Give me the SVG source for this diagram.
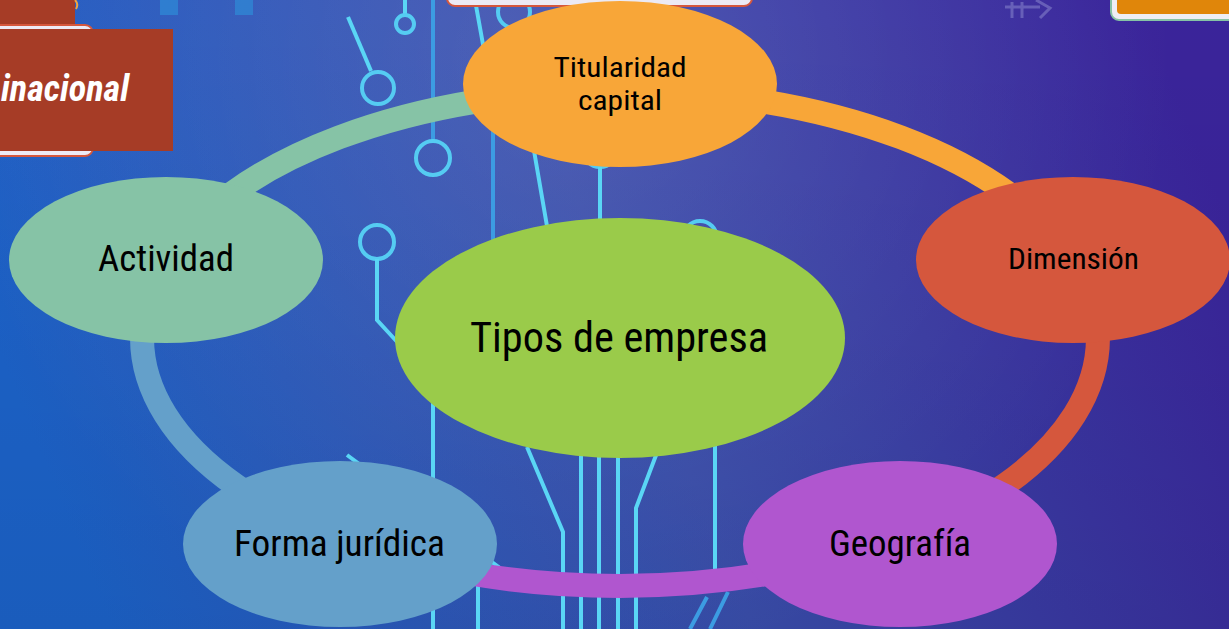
<svg xmlns="http://www.w3.org/2000/svg" width="1229" height="629" viewBox="0 0 1229 629">
<defs>
<linearGradient id="bg" gradientUnits="userSpaceOnUse" x1="100" y1="600" x2="1200" y2="150">
<stop offset="0" stop-color="#1C63CA"/>
<stop offset="0.5" stop-color="#3A4EAE"/>
<stop offset="1" stop-color="#3A249A"/>
</linearGradient>
<radialGradient id="glow" gradientUnits="userSpaceOnUse" cx="560" cy="60" r="620">
<stop offset="0" stop-color="#FFFFFF" stop-opacity="0.10"/>
<stop offset="1" stop-color="#FFFFFF" stop-opacity="0"/>
</radialGradient>
<linearGradient id="shade" x1="0" y1="0" x2="0" y2="1">
<stop offset="0" stop-color="#000" stop-opacity="0"/>
<stop offset="1" stop-color="#000" stop-opacity="0.07"/>
</linearGradient>
<style>
.wire{fill:none;stroke:#5AD6F5;stroke-width:4;stroke-linejoin:miter}
.wireb{fill:none;stroke:#3C9CE2;stroke-width:4}
.ring{fill:none;stroke:#55CCF2;stroke-width:4}
.arc{fill:none;stroke-width:24}
.lbl{font-family:"Roboto Condensed",Roboto,"Liberation Sans",sans-serif;fill:#000;text-anchor:middle}
</style>
</defs>

<!-- background -->
<rect width="1229" height="629" fill="url(#bg)"/>
<rect width="1229" height="629" fill="url(#glow)"/>
<rect width="1229" height="629" fill="url(#shade)"/>

<!-- faint decorations -->
<rect x="160" y="0" width="18" height="15" fill="#2F88D6" opacity="0.75"/>
<rect x="235" y="0" width="18" height="15" fill="#2F88D6" opacity="0.75"/>
<g stroke="#9A9AD8" stroke-width="3" fill="none" opacity="0.45">
<path d="M1005,7 H1040 M1012,2 V18 M1022,2 V18 M1036,0 L1050,8 L1040,18"/>
</g>

<!-- circuit lines -->
<g id="circuit">
<path class="wire" d="M348,17 L371,71"/>
<circle class="ring" cx="378" cy="88" r="16"/>
<path class="wire" d="M405,0 V15"/>
<circle class="ring" cx="405" cy="24" r="9"/>
<path class="wireb" d="M433,0 V141"/>
<circle class="ring" cx="433" cy="158" r="17"/>
<circle class="ring" cx="514" cy="12" r="16"/>
<path class="wire" d="M475,0 L484,50 L527,110 L548,232"/>
<path class="wireb" d="M493,100 V250"/>
<circle class="ring" cx="377" cy="242" r="17"/>
<path class="wire" d="M377,259 V320 L400,345"/>
<circle class="ring" cx="600" cy="150" r="17"/>
<path class="wire" d="M600,167 V228"/>
<circle class="ring" cx="700" cy="238" r="17"/>
<path class="wire" d="M433,380 V629"/>
<path class="wire" d="M347,455 L500,568"/>
<path class="wire" d="M478,575 V629"/>
<path class="wire" d="M527,447 L563,532 V629"/>
<path class="wire" d="M581,450 V629 M599,450 V629 M618,450 V629"/>
<path class="wire" d="M658,450 L636,508 V629"/>
<path class="wire" d="M715,440 V570"/>
<path class="wireb" d="M707,597 L690,629 M728,592 L710,629"/>
</g>

<!-- top partial boxes -->
<g id="topleft">
<rect x="-20" y="-20" width="95" height="48" fill="#A63C26"/>
<path d="M75,0 Q79,4 76,9" fill="none" stroke="#F2A540" stroke-width="2"/>
<rect x="-20" y="25" width="113" height="131" rx="8" fill="#EDEAF5" stroke="#D5573D" stroke-width="2"/>
<rect x="0" y="29" width="173" height="122" fill="#A63C26"/>
<text x="1" y="101" font-family="'Roboto Condensed',Roboto,'Liberation Sans',sans-serif" font-size="36" font-weight="bold" font-style="italic" fill="#FFFFFF" textLength="128" lengthAdjust="spacingAndGlyphs">inacional</text>
</g>
<g id="topcenter">
<rect x="447" y="-30" width="305" height="36" rx="8" fill="#ECEAF4" stroke="#D5573D" stroke-width="2"/>
</g>
<g id="topright">
<rect x="1111" y="-30" width="140" height="50" rx="8" fill="#EEEEF5" stroke="#86C3A6" stroke-width="2"/>
<rect x="1117" y="-20" width="130" height="34" rx="4" fill="#E0860A"/>
</g>

<!-- connectors -->
<g id="connectors">
<path class="arc" stroke="#F8A638" d="M620,90 A478,248 0 0 1 1074.6,261.4"/>
<path class="arc" stroke="#D5573D" d="M1074.6,261.4 A478,248 0 0 1 901,538.6"/>
<path class="arc" stroke="#B056CF" d="M901,538.6 A478,248 0 0 1 339,538.6"/>
<path class="arc" stroke="#64A0CA" d="M339,538.6 A478,248 0 0 1 165.4,261.4"/>
<path class="arc" stroke="#86C3A6" d="M165.4,261.4 A478,248 0 0 1 620,90"/>
</g>

<!-- nodes -->
<g id="node-titularidad">
<ellipse cx="620" cy="84" rx="157" ry="83" fill="#F8A638"/>
<text class="lbl" x="620" y="77" font-size="28" textLength="133" lengthAdjust="spacingAndGlyphs">Titularidad</text>
<text class="lbl" x="620" y="110" font-size="28" textLength="84" lengthAdjust="spacingAndGlyphs">capital</text>
</g>
<g id="node-actividad">
<ellipse cx="166" cy="260" rx="157" ry="83" fill="#86C3A6"/>
<text class="lbl" x="166" y="271" font-size="37" textLength="136" lengthAdjust="spacingAndGlyphs">Actividad</text>
</g>
<g id="node-dimension">
<ellipse cx="1073" cy="260" rx="157" ry="83" fill="#D5573D"/>
<text class="lbl" x="1073.5" y="269" font-size="30" textLength="131" lengthAdjust="spacingAndGlyphs">Dimensión</text>
</g>
<g id="node-forma">
<ellipse cx="340" cy="544" rx="157" ry="83" fill="#64A0CA"/>
<text class="lbl" x="339.5" y="556" font-size="36" textLength="211" lengthAdjust="spacingAndGlyphs">Forma jurídica</text>
</g>
<g id="node-geografia">
<ellipse cx="900" cy="544" rx="157" ry="83" fill="#B056CF"/>
<text class="lbl" x="900" y="556" font-size="36" textLength="142" lengthAdjust="spacingAndGlyphs">Geografía</text>
</g>
<g id="node-tipos">
<ellipse cx="620" cy="338" rx="225" ry="120" fill="#9ACB4A"/>
<text class="lbl" x="619" y="352" font-size="42" textLength="298" lengthAdjust="spacingAndGlyphs">Tipos de empresa</text>
</g>
</svg>
